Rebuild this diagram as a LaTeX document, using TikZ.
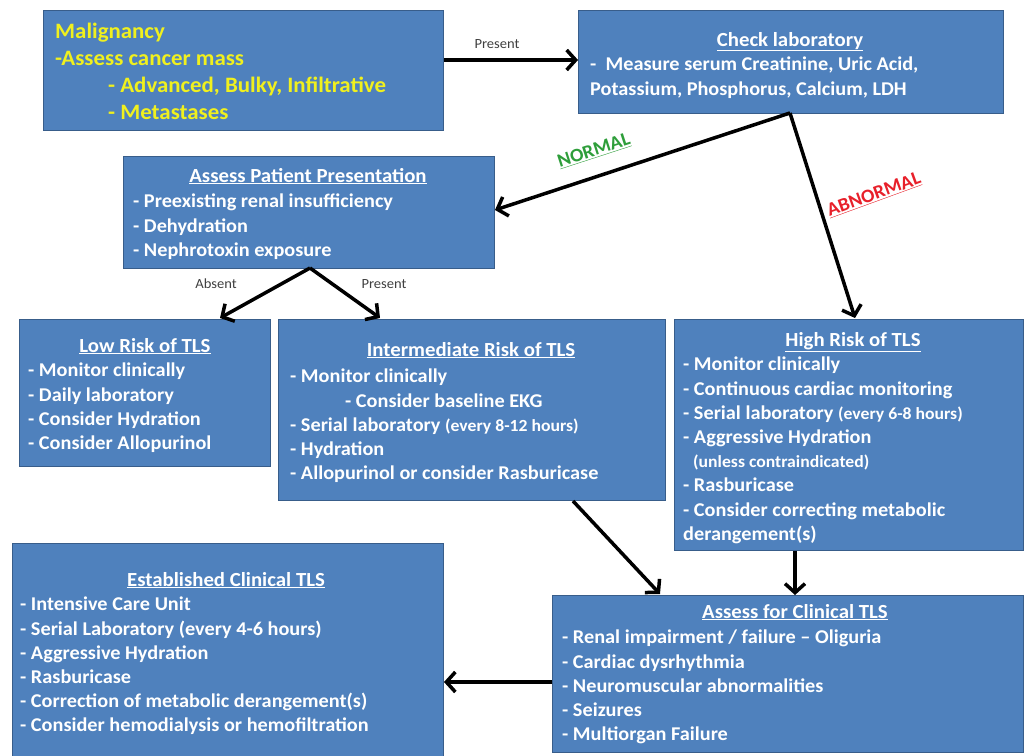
\documentclass[tikz,border=0pt]{standalone}
\usepackage{fontspec}
\setmainfont{Carlito}[FakeStretch=1.04]
\usetikzlibrary{arrows.meta}
\definecolor{boxblue}{HTML}{4F81BD}
\definecolor{boxedge}{HTML}{385D8A}
\definecolor{malyellow}{HTML}{F0F01E}
\definecolor{okgreen}{HTML}{2E9E3A}
\definecolor{badred}{HTML}{E8202A}
\newcommand{\paren}[1]{{\fontsize{17}{24}\selectfont #1}}
\begin{document}
\begin{tikzpicture}[x=1pt,y=-1pt,
  box/.style={draw=boxedge, fill=boxblue, line width=1pt, anchor=north west, inner sep=0pt},
  ttl/.style={text=white, font=\bfseries\fontsize{20}{24}\selectfont, anchor=base, inner sep=0pt},
  body/.style={text=white, font=\bfseries\fontsize{19.5}{24.2}\selectfont, anchor=north west, align=left, inner sep=0pt},
  arr/.style={-{Straight Barb[length=9pt,width=20pt,line width=3.5pt]}, line width=3.5pt},
  lbl/.style={font=\fontsize{14}{16}\selectfont, text=black!75, inner sep=0pt}]
\useasboundingbox (0,0) rectangle (1027,755);
\fill[white] (0,0) rectangle (1027,755);

% boxes
\node[box, minimum width=400pt, minimum height=120pt] (A) at (43,10) {};
\node[box, minimum width=425pt, minimum height=103pt] (B) at (578,10) {};
\node[box, minimum width=371pt, minimum height=112pt] (C) at (123,156) {};
\node[box, minimum width=251pt, minimum height=147pt] (D) at (19,319) {};
\node[box, minimum width=387pt, minimum height=181pt] (E) at (278,319) {};
\node[box, minimum width=349pt, minimum height=231pt] (F) at (674,319) {};
\node[box, minimum width=431pt, minimum height=215pt] (G) at (12,543) {};
\node[box, minimum width=471pt, minimum height=157pt] (H) at (552,595) {};

% texts
\node[body, text=malyellow, font=\bfseries\fontsize{22}{27}\selectfont] (Atxt) at (55,23)
  {\rule{0pt}{14pt}Malignancy\\
   -Assess cancer mass\\
   \hspace*{53pt}- Advanced, Bulky, Infiltrative\\
   \hspace*{53pt}- Metastases};

\node[ttl] (Bttl) at (790,46) {\underline{Check laboratory}};
\node[body, font=\bfseries\fontsize{19.5}{25}\selectfont] (Btxt) at (590,57)
  {\rule{0pt}{12pt}-\ \ Measure serum Creatinine, Uric Acid,\\
   Potassium, Phosphorus, Calcium, LDH};

\node[ttl] (Cttl) at (308,182) {\underline{Assess Patient Presentation}};
\node[body] (Ctxt) at (133,194)
  {\rule{0pt}{12pt}- Preexisting renal insufficiency\\
   - Dehydration\\
   - Nephrotoxin exposure};

\node[ttl] (Dttl) at (145,352) {\underline{Low Risk of TLS}};
\node[body] (Dtxt) at (28,363)
  {\rule{0pt}{12pt}- Monitor clinically\\
   - Daily laboratory\\
   - Consider Hydration\\
   - Consider Allopurinol};

\node[ttl] (Ettl) at (471,356) {\underline{Intermediate Risk of TLS}};
\node[body] (Etxt) at (290,369)
  {\rule{0pt}{12pt}- Monitor clinically\\
   \hspace*{55pt}- Consider baseline EKG\\
   - Serial laboratory \paren{(every 8-12 hours)}\\
   - Hydration\\
   - Allopurinol or consider Rasburicase};

\node[ttl] (Fttl) at (853,346) {\underline{High Risk of TLS}};
\node[body] (Ftxt) at (683,357)
  {\rule{0pt}{12pt}- Monitor clinically\\
   - Continuous cardiac monitoring\\
   - Serial laboratory \paren{(every 6-8 hours)}\\
   - Aggressive Hydration\\
   \hspace*{10pt}\paren{(unless contraindicated)}\\
   - Rasburicase\\
   - Consider correcting metabolic\\
   derangement(s)};

\node[ttl] (Gttl) at (226,586) {\underline{Established Clinical TLS}};
\node[body] (Gtxt) at (20,597)
  {\rule{0pt}{12pt}- Intensive Care Unit\\
   - Serial Laboratory (every 4-6 hours)\\
   - Aggressive Hydration\\
   - Rasburicase\\
   - Correction of metabolic derangement(s)\\
   - Consider hemodialysis or hemofiltration};

\node[ttl] (Httl) at (795,618) {\underline{Assess for Clinical TLS}};
\node[body] (Htxt) at (562,630)
  {\rule{0pt}{12pt}- Renal impairment / failure -- Oliguria\\
   - Cardiac dysrhythmia\\
   - Neuromuscular abnormalities\\
   - Seizures\\
   - Multiorgan Failure};

% connector coordinates
\coordinate (Bs) at (790,113);
\coordinate (Cs) at (310,268);

% arrows
\draw[arr] (A.east |- 0,60) -- (B.west |- 0,60);
\draw[arr] (Bs) -- (C.east |- 0,210);
\draw[arr] (Bs) -- (855,318);
\draw[arr] (Cs) -- (220,318);
\draw[arr] (Cs) -- (380,318);
\draw[arr] (E.south -| 573,0) -- (660,594);
\draw[arr] (F.south -| 795,0) -- (H.north -| 795,0);
\draw[arr] (H.west |- 0,682) -- (G.east |- 0,682);

% labels
\node[lbl] (lpres1) at (497,44) {Present};
\node[lbl] (labs) at (216,284) {Absent};
\node[lbl] (lpres2) at (384,284) {Present};
\node[rotate=18, text=okgreen, font=\bfseries\fontsize{19}{20}\selectfont, inner sep=0pt] (lnorm) at (594,151) {\underline{NORMAL}};
\node[rotate=20, text=badred, font=\bfseries\fontsize{19}{20}\selectfont, inner sep=0pt] (labn) at (874,195) {\underline{ABNORMAL}};
\end{tikzpicture}
\end{document}
